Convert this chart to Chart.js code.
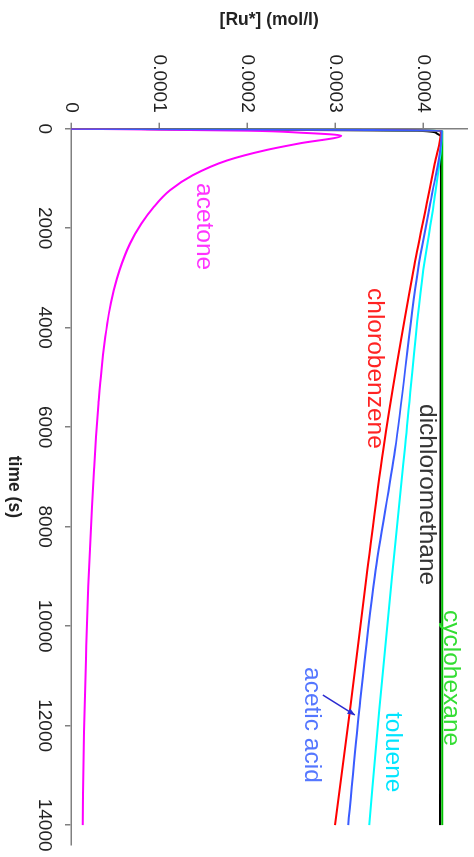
<!DOCTYPE html>
<html>
<head>
<meta charset="utf-8">
<script src="https://cdn.jsdelivr.net/npm/chart.js@4.4.1/dist/chart.umd.min.js"></script>
<style>
  html, body { margin: 0; padding: 0; background: #fff; overflow: hidden; }
  #wrap {
    position: absolute; left: 0; top: 0;
    width: 857px; height: 474px;
    transform-origin: 0 0;
    transform: translate(474px, 0) rotate(90deg);
  }
</style>
</head>
<body>
<div id="wrap"><canvas id="chartCanvas" width="857" height="474"></canvas></div>
<script>
// axis ticks
var timeTicks = [0, 2000, 4000, 6000, 8000, 10000, 12000, 14000];
var concTicks = [0, 0.0001, 0.0002, 0.0003, 0.0004];
var concTickLabels = ['0', '0.0001', '0.0002', '0.0003', '0.0004'];

// series: time (s) and [Ru*] (mol/l)
var acetoneTime = [0, 40, 80, 140, 294, 428, 640, 938, 1239, 1574, 1908, 2310, 2846, 3248, 3716, 4186, 4855, 5524, 6193, 6863, 7600, 9193, 10661, 12129, 14000];
var acetoneConc = [0, 2.0e-4, 2.6e-4, 3.07e-4, 2.60e-4, 2.22e-4, 1.77e-4, 1.38e-4, 1.124e-4, 0.94e-4, 0.80e-4, 0.67e-4, 0.55e-4, 0.485e-4, 0.43e-4, 0.39e-4, 0.345e-4, 0.312e-4, 0.284e-4, 0.261e-4, 0.238e-4, 0.196e-4, 0.170e-4, 0.148e-4, 0.133e-4];

var chlorobenzeneTime = [0, 40, 696, 1500, 2840, 6459, 9007, 11687, 14000];
var chlorobenzeneConc = [0, 4.20e-4, 4.13e-4, 4.04e-4, 3.89e-4, 3.545e-4, 3.356e-4, 3.167e-4, 2.997e-4];

var aceticTime = [0, 40, 1500, 2840, 6459, 9007, 11687, 14000];
var aceticConc = [0, 4.21e-4, 4.08e-4, 3.94e-4, 3.68e-4, 3.448e-4, 3.273e-4, 3.148e-4];

var tolueneTime = [0, 40, 1500, 2840, 6459, 9007, 11687, 14000];
var tolueneConc = [0, 4.21e-4, 4.12e-4, 4.0e-4, 3.79e-4, 3.645e-4, 3.50e-4, 3.387e-4];

var dcmTime = [0, 40, 90, 160, 14000];
var dcmConc = [0, 3.92e-4, 4.15e-4, 4.20e-4, 4.19e-4];

var cyclohexaneTime = [0, 40, 14000];
var cyclohexaneConc = [0, 4.215e-4, 4.215e-4];

function pts(t, c) {
  return t.map(function(v, i) { return { x: v, y: c[i] }; });
}

// in-plot labels, placed in data units
var labels = [
  { text: 'acetone', t: 1092, c: 1.43e-4, color: '#ff33ff' },
  { text: 'chlorobenzene', t: 3203, c: 3.37e-4, color: '#ff2222' },
  { text: 'dichloromethane', t: 5535, c: 3.96e-4, color: '#333333' },
  { text: 'cyclohexane', t: 9676, c: 4.24e-4, color: '#33dd33' },
  { text: 'toluene', t: 11727, c: 3.575e-4, color: '#00e5ff' },
  { text: 'acetic acid', t: 10822, c: 2.656e-4, color: '#5577ff' }
];
var arrow = { t0: 11385, c0: 2.86e-4, t1: 11787, c1: 3.224e-4, color: '#2a2ad0' };

var labelPlugin = {
  id: 'seriesLabels',
  afterDatasetsDraw: function(chart) {
    var ctx = chart.ctx;
    var xs = chart.scales.x, ys = chart.scales.y;
    ctx.save();
    ctx.font = '24.5px "Liberation Sans", Arial, sans-serif';
    ctx.textAlign = 'left';
    ctx.textBaseline = 'alphabetic';
    labels.forEach(function(l) {
      ctx.fillStyle = l.color;
      ctx.fillText(l.text, xs.getPixelForValue(l.t), ys.getPixelForValue(l.c));
    });
    var x0 = xs.getPixelForValue(arrow.t0), y0 = ys.getPixelForValue(arrow.c0);
    var x1 = xs.getPixelForValue(arrow.t1), y1 = ys.getPixelForValue(arrow.c1);
    ctx.strokeStyle = arrow.color;
    ctx.fillStyle = arrow.color;
    ctx.lineWidth = 1.5;
    ctx.beginPath();
    ctx.moveTo(x0, y0);
    ctx.lineTo(x1, y1);
    ctx.stroke();
    var a = Math.atan2(y1 - y0, x1 - x0);
    ctx.beginPath();
    ctx.moveTo(x1, y1);
    ctx.lineTo(x1 - 8 * Math.cos(a - 0.4), y1 - 8 * Math.sin(a - 0.4));
    ctx.lineTo(x1 - 8 * Math.cos(a + 0.4), y1 - 8 * Math.sin(a + 0.4));
    ctx.closePath();
    ctx.fill();
    ctx.restore();
  }
};

function ds(label, t, c, color) {
  return {
    label: label,
    data: pts(t, c),
    borderColor: color,
    borderWidth: 2,
    pointRadius: 0,
    fill: false,
    cubicInterpolationMode: 'monotone'
  };
}

var axisColor = '#808080';
var tickFont = { family: '"Liberation Sans", Arial, sans-serif', size: 19 };
var titleFont = { family: '"Liberation Sans", Arial, sans-serif', size: 17.5, weight: 'bold' };

new Chart(document.getElementById('chartCanvas'), {
  type: 'line',
  data: {
    datasets: [
      ds('acetic acid', aceticTime, aceticConc, '#3a5cff'),
      ds('acetone', acetoneTime, acetoneConc, '#ff00ff'),
      ds('chlorobenzene', chlorobenzeneTime, chlorobenzeneConc, '#ff0000'),
      ds('toluene', tolueneTime, tolueneConc, '#00ffff'),
      ds('cyclohexane', cyclohexaneTime, cyclohexaneConc, '#00c000'),
      ds('dichloromethane', dcmTime, dcmConc, '#000000')
    ]
  },
  options: {
    responsive: false,
    animation: false,
    layout: { padding: { left: 0, top: 6.7, right: 12, bottom: 0 } },
    plugins: { legend: { display: false }, tooltip: { enabled: false } },
    scales: {
      x: {
        type: 'linear',
        position: 'bottom',
        min: 0,
        max: 14400,
        afterBuildTicks: function(scale) {
          scale.ticks = timeTicks.map(function(v) { return { value: v }; });
        },
        afterFit: function(scale) {
          scale.height = 71;
          scale.paddingLeft = 0;
          scale.paddingRight = 0;
        },
        ticks: {
          color: '#222',
          font: tickFont,
          padding: 9,
          maxRotation: 0,
          minRotation: 0,
          callback: function(v) { return String(v); }
        },
        grid: { display: true, drawOnChartArea: false, drawTicks: true, tickLength: 6, color: axisColor, lineWidth: 1.5 },
        border: { display: true, color: axisColor, width: 1.5 },
        title: { display: true, text: 'time (s)', color: '#222', font: titleFont, padding: { top: 0, bottom: 3 } }
      },
      y: {
        type: 'linear',
        position: 'left',
        min: 0,
        max: 0.00045,
        afterBuildTicks: function(scale) {
          scale.ticks = concTicks.map(function(v) { return { value: v }; });
        },
        afterFit: function(scale) {
          scale.width = 128.7;
          scale.paddingTop = 0;
          scale.paddingBottom = 0;
        },
        ticks: {
          color: '#222',
          font: tickFont,
          padding: 10,
          callback: function(v, i) { return concTickLabels[i]; }
        },
        grid: { display: true, drawOnChartArea: false, drawTicks: true, tickLength: 6, color: axisColor, lineWidth: 1.5 },
        border: { display: true, color: axisColor, width: 1.5 },
        title: { display: true, text: '[Ru*] (mol/l)', color: '#222', font: titleFont, padding: { top: 9.5, bottom: 0 } }
      }
    }
  },
  plugins: [labelPlugin]
});
</script>
</body>
</html>
